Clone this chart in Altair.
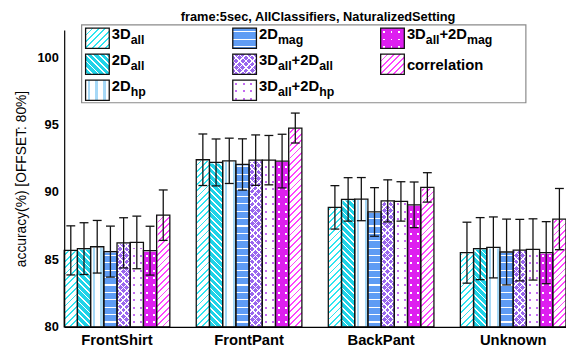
import math
import pandas as pd
import altair as alt

# ---------------- data ----------------
groups = ["FrontShirt", "FrontPant", "BackPant", "Unknown"]
series = ["3Dall", "2Dall", "2Dhp", "2Dmag",
          "3Dall+2Dall", "3Dall+2Dhp", "3Dall+2Dmag", "correlation"]

front_shirt_mean = [85.67, 85.80, 85.94, 85.58, 86.23, 86.26, 85.65, 88.28]
front_shirt_std = [1.82, 1.92, 1.95, 1.89, 1.86, 1.95, 1.81, 1.87]
front_pant_mean = [92.39, 92.19, 92.31, 92.04, 92.36, 92.36, 92.29, 94.74]
front_pant_std = [1.91, 1.74, 1.68, 1.90, 1.87, 1.83, 1.99, 1.11]
back_pant_mean = [88.86, 89.45, 89.47, 88.52, 89.34, 89.30, 89.05, 90.34]
back_pant_std = [1.61, 1.61, 1.60, 1.80, 1.56, 1.46, 1.69, 1.09]
unknown_mean = [85.50, 85.80, 85.89, 85.55, 85.69, 85.74, 85.50, 87.99]
unknown_std = [2.26, 2.30, 2.26, 2.44, 2.28, 2.27, 2.30, 2.27]

y_ticks = [80, 85, 90, 95, 100]
y_domain = [80, 102]
title_text = "frame:5sec, AllClassifiers, NaturalizedSetting"

# legend labels: (text, is_subscript) pieces
legend_pieces = {
    "3Dall": [("3D", False), ("all", True)],
    "2Dall": [("2D", False), ("all", True)],
    "2Dhp": [("2D", False), ("hp", True)],
    "2Dmag": [("2D", False), ("mag", True)],
    "3Dall+2Dall": [("3D", False), ("all", True), ("+2D", False), ("all", True)],
    "3Dall+2Dhp": [("3D", False), ("all", True), ("+2D", False), ("hp", True)],
    "3Dall+2Dmag": [("3D", False), ("all", True), ("+2D", False), ("mag", True)],
    "correlation": [("correlation", False)],
}

means = [front_shirt_mean, front_pant_mean, back_pant_mean, unknown_mean]
stds = [front_shirt_std, front_pant_std, back_pant_std, unknown_std]
rows = []
for g, m_list, s_list in zip(groups, means, stds):
    for s, m, sd in zip(series, m_list, s_list):
        rows.append({"group": g, "series": s, "mean": m, "std": sd})
df = pd.DataFrame(rows)

# ---------------- layout / style ----------------
FONT = "Liberation Sans"
W, H = 509, 301
PAD_INNER = 0.2
step = W / (len(groups) - PAD_INNER)
bar_w = step * (1 - PAD_INNER) / len(series)

WHITE = "#ffffff"
CLEAR = "rgba(255,255,255,0)"
CYAN_LINE = "#30e4f0"
CYAN = "#1fd3e8"
LIGHTBLUE = "#a6d8f6"
BLUE = "#5f9cf4"
PURPLE = "#9a66ee"
VIOLET = "#c46cf2"
MAGENTA = "#de1ff0"
PINK = "#ff44ff"


def stripes(period, line, fg, bg, phase=0.0):
    stops = []
    s = phase - period * math.ceil(phase / period) if phase > 0 else phase
    while s < 1:
        a, b = max(s, 0.0), min(s + line, 1.0)
        if b > a:
            stops += [(a, fg), (b, fg)]
        c, d = max(s + line, 0.0), min(s + period, 1.0)
        if d > c:
            stops += [(c, bg), (d, bg)]
        s += period
    return [{"offset": round(o, 5), "color": col} for o, col in stops]


def grad(x1, y1, x2, y2, stops):
    return {"gradient": "linear", "x1": round(x1, 5), "y1": round(y1, 5),
            "x2": round(x2, 5), "y2": round(y2, 5), "stops": stops}


def diag(w, h, direction, P, L, fg, bg, phase=0.0):
    U = w + h
    k = (w + h) / (w * w + h * h)
    r2 = math.sqrt(2)
    st = stripes(P * r2 / U, L * r2 / U, fg, bg, phase * r2 / U)
    if direction == "/":
        return grad(0, 0, k * w, k * h, st)
    return grad(0, 1, k * w, 1 - k * h, st)


def vstripes(w, P, L, fg, bg, phase=0.0):
    return grad(0, 0, 1, 0, stripes(P / w, L / w, fg, bg, phase / w))


def hstripes(h, P, L, fg, bg, phase=0.0):
    return grad(0, 0, 0, 1, stripes(P / h, L / h, fg, bg, phase / h))


def make_patterns(w, h):
    P, L = 4.6, 1.3
    return {
        "3Dall": [diag(w, h, "/", P, L, CYAN_LINE, WHITE)],
        "2Dall": [diag(w, h, "\\", P, L, WHITE, CYAN)],
        "2Dhp": [vstripes(w, 8, 2.5, LIGHTBLUE, WHITE, phase=2)],
        "2Dmag": [hstripes(h, 7.5, 1.2, WHITE, BLUE, phase=3)],
        "3Dall+2Dall": [diag(w, h, "/", P, 1.2, WHITE, PURPLE),
                        diag(w, h, "\\", P, 1.2, WHITE, CLEAR)],
        "3Dall+2Dhp": [VIOLET,
                       hstripes(h, 7.5, 2, CLEAR, WHITE, phase=3),
                       vstripes(w, 7.5, 2, CLEAR, WHITE, phase=2.5)],
        "3Dall+2Dmag": [WHITE,
                        hstripes(h, 7.5, 2, CLEAR, MAGENTA, phase=3),
                        vstripes(w, 7.5, 2, CLEAR, MAGENTA, phase=2.5)],
        "correlation": [diag(w, h, "/", P, L, PINK, WHITE)],
    }


# ---------------- encodings ----------------
x_scale = alt.Scale(domain=groups, paddingInner=PAD_INNER, paddingOuter=0)
xo_scale = alt.Scale(domain=series, paddingInner=0, paddingOuter=0)
y_scale = alt.Scale(domain=y_domain, nice=False, zero=False)

x_axis = alt.Axis(title=None, labelFont=FONT, labelFontSize=15, labelFontWeight="bold",
                  labelColor="black", labelAngle=0, ticks=False, domainColor="black",
                  domainWidth=1.2, labelPadding=6, zindex=1, grid=False)
y_axis = alt.Axis(title="accuracy(%) [OFFSET: 80%]", values=y_ticks, labelFont=FONT,
                  labelFontSize=13, labelFontWeight="bold", labelColor="black",
                  ticks=False, domainColor="black", domainWidth=1.2, labelPadding=6,
                  titleFont=FONT, titleFontSize=14, titleFontWeight="normal",
                  titleColor="black", titlePadding=9, zindex=1, grid=False)

X = alt.X("group:N", scale=x_scale, axis=x_axis, sort=groups)
XO = alt.XOffset("series:N", scale=xo_scale, sort=series)

base = alt.Chart(df).transform_calculate(
    lo="datum.mean - datum.std", hi="datum.mean + datum.std")

layers = []
bar_patterns = make_patterns(bar_w, H)
for s in series:
    for fill in bar_patterns[s]:
        layers.append(
            base.transform_filter(alt.datum.series == s)
            .mark_bar(fill=fill, strokeWidth=0, opacity=1)
            .encode(x=X, xOffset=XO,
                    y=alt.YDatum(y_domain[1], scale=y_scale, axis=y_axis),
                    y2=alt.Y2Datum(y_domain[0]))
        )

# white cover above each bar value
layers.append(base.mark_bar(fill="white", stroke="white", strokeWidth=2, opacity=1).encode(
    x=X, xOffset=XO, y=alt.Y("mean:Q", scale=y_scale, axis=y_axis),
    y2=alt.Y2Datum(y_domain[1])))
# outlines
layers.append(base.mark_bar(fill="transparent", stroke="#111111", strokeWidth=1.3).encode(
    x=X, xOffset=XO, y=alt.Y("mean:Q", scale=y_scale, axis=y_axis),
    y2=alt.Y2Datum(y_domain[0])))
# error bars
layers.append(base.mark_rule(color="#111111", strokeWidth=1.3).encode(
    x=X, xOffset=XO, y=alt.Y("lo:Q", scale=y_scale, axis=y_axis), y2="hi:Q"))
for f in ["lo", "hi"]:
    layers.append(base.mark_tick(color="#111111", orient="horizontal", size=9,
                                 thickness=1.3, opacity=1).encode(
        x=X, xOffset=XO, y=alt.Y(f + ":Q", scale=y_scale, axis=y_axis)))

# ---------------- manual legend (pixel layout inside the plot) ----------------
one = alt.Data(values=[{"k": 0}])
BOX = (17.7, -5.3, 468.3, 73.7)
SW_W, SW_H = 24, 20.5
COL_X = [21.7, 171.0, 321.0]
ROW_Y = [-2.0, 24.3, 50.7]
TXT_DX = 26.6
MAIN_FS, SUB_FS = 15, 12.5
AW = {"2": 556, "3": 556, "D": 722, "+": 584, "a": 556, "l": 278, "h": 611,
      "p": 611, "m": 889, "g": 611}

layers.append(alt.Chart(one).mark_rect(fill="white", stroke="#8a8a8a", strokeWidth=1.2).encode(
    x=alt.value(BOX[0]), x2=alt.value(BOX[2]), y=alt.value(BOX[1]), y2=alt.value(BOX[3])))

sw_patterns = make_patterns(SW_W, SW_H)
for i, s in enumerate(series):
    col, row = i // 3, i % 3
    x0, y0 = COL_X[col], ROW_Y[row]
    fills = sw_patterns[s]
    for j, fill in enumerate(fills):
        last = j == len(fills) - 1
        props = dict(fill=fill)
        if last:
            props.update(stroke="#111111", strokeWidth=1.3)
        else:
            props.update(strokeWidth=0)
        layers.append(alt.Chart(one).mark_rect(**props).encode(
            x=alt.value(x0), x2=alt.value(x0 + SW_W),
            y=alt.value(y0), y2=alt.value(y0 + SW_H)))
    tx = x0 + TXT_DX
    pieces = legend_pieces[s]
    if len(pieces) == 1:
        layers.append(alt.Chart(one).mark_text(
            text=pieces[0][0], font=FONT, fontSize=MAIN_FS, fontWeight="bold",
            align="left", baseline="alphabetic", color="black").encode(
            x=alt.value(tx), y=alt.value(y0 + SW_H / 2 + 5.5)))
        continue
    for txt, sub in pieces:
        fs = SUB_FS if sub else MAIN_FS
        yb = y0 + 10.7 + (5 if sub else 0)
        layers.append(alt.Chart(one).mark_text(
            text=txt, font=FONT, fontSize=fs, fontWeight="bold",
            align="left", baseline="alphabetic", color="black").encode(
            x=alt.value(tx), y=alt.value(yb)))
        tx += sum(AW[c] for c in txt) / 1000 * fs

# title as a text mark centred over the axes
layers.append(alt.Chart(one).mark_text(
    text=title_text, font=FONT, fontSize=13, fontWeight="bold", align="center",
    baseline="alphabetic", color="black").encode(
    x=alt.value(W / 2 + 3), y=alt.value(-9.5)))

chart = alt.layer(*layers).properties(
    width=W, height=H,
    autosize=alt.AutoSizeParams(type="none"),
    padding={"left": 57, "top": 20, "right": 0, "bottom": 19},
).configure_view(stroke=None).configure(background="white")

chart.save("out.html", embed_options={"renderer": "svg", "actions": False})
